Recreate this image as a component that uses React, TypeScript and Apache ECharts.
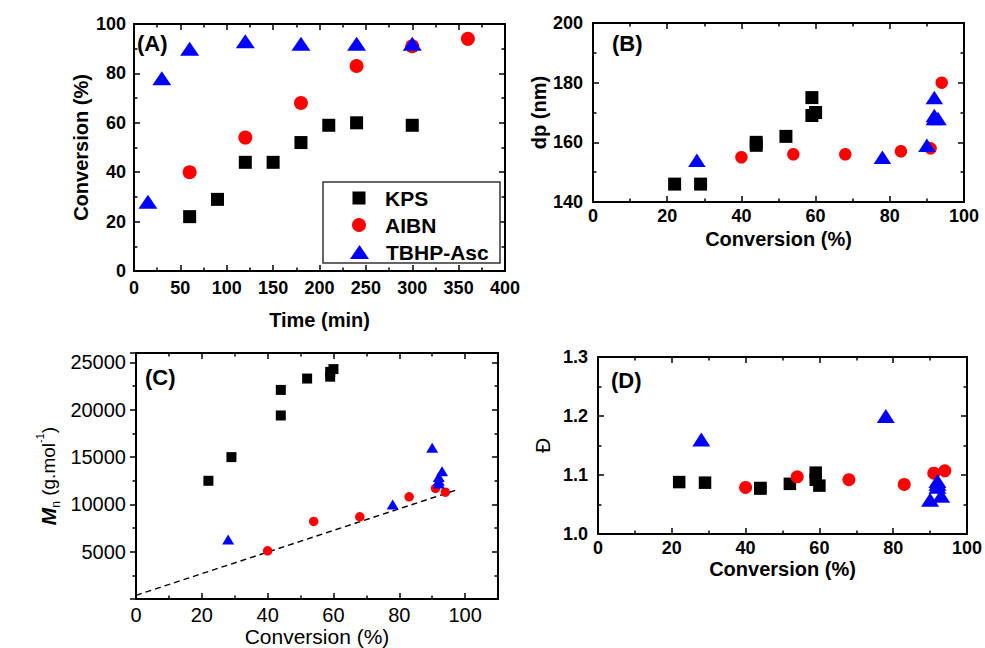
import React, { useEffect, useRef } from 'react';
import * as echarts from 'echarts';

const FONT = '"Liberation Sans", Arial, Helvetica, sans-serif';

// ---------- Panel A: Conversion vs time ----------
const timeKPS = [60, 90, 120, 150, 180, 210, 240, 300];
const convKPS = [22, 29, 44, 44, 52, 59, 60, 59];
const timeAIBN = [60, 120, 180, 240, 300, 360];
const convAIBN = [40, 54, 68, 83, 91, 94];
const timeTBHP = [15, 30, 60, 120, 180, 240, 300];
const convTBHP = [28, 78, 90, 93, 92, 92, 92];

// ---------- Panel B: dp vs conversion ----------
const bConvKPS = [22, 29, 44, 44, 52, 59, 60, 59];
const dpKPS = [146, 146, 159, 160, 162, 175, 170, 169];
const bConvAIBN = [40, 54, 68, 83, 91, 94];
const dpAIBN = [155, 156, 156, 157, 158, 180];
const bConvTBHP = [28, 78, 90, 93, 92, 92, 92];
const dpTBHP = [154, 155, 159, 168, 175, 168, 169];

// ---------- Panel C: Mn vs conversion ----------
const cConvKPS = [22, 29, 44, 44, 52, 59, 59, 60];
const mnKPS = [12500, 15000, 22100, 19400, 23300, 23500, 24000, 24300];
const cConvAIBN = [40, 54, 68, 83, 91, 94];
const mnAIBN = [5100, 8200, 8700, 10800, 11700, 11300];
const cConvTBHP = [28, 78, 90, 93, 92, 92, 92];
const mnTBHP = [6300, 10000, 16000, 13500, 12900, 12500, 12200];
const theoryConv = [0, 98];
const theoryMn = [400, 11600];

// ---------- Panel D: dispersity vs conversion ----------
const dConvKPS = [22, 29, 44, 44, 52, 59, 59, 60];
const dispKPS = [1.088, 1.087, 1.077, 1.078, 1.085, 1.104, 1.092, 1.082];
const dConvAIBN = [40, 54, 68, 83, 91, 94];
const dispAIBN = [1.079, 1.097, 1.092, 1.084, 1.103, 1.107];
const dConvTBHP = [28, 78, 90, 93, 92, 92, 92];
const dispTBHP = [1.16, 1.2, 1.058, 1.065, 1.09, 1.08, 1.085];

const zip = (xs: number[], ys: number[]) => xs.map((x, i) => [x, ys[i]]);

const BLACK = '#000000';
const RED = '#ff0000';
const BLUE = '#0000ff';

const lineStyle = { color: BLACK, width: 2 };
const tickStyle = { color: BLACK, width: 1.5 };

function axisPair(
  kind: 'x' | 'y',
  gridIndex: number,
  min: number,
  max: number,
  interval: number,
  opts: any
) {
  const main: any = {
    type: 'value',
    gridIndex,
    min,
    max,
    interval,
    position: kind === 'x' ? 'bottom' : 'left',
    axisLine: { show: true, onZero: false, lineStyle },
    axisTick: { show: true, inside: opts.tickOutside ? false : true, length: 6, lineStyle: tickStyle },
    minorTick: { show: true, splitNumber: 2, length: 3.5, lineStyle: tickStyle },
    splitLine: { show: false },
    axisLabel: {
      show: true,
      fontFamily: FONT,
      fontSize: opts.labelSize || 18,
      fontWeight: opts.bold ? 'bold' : 'normal',
      color: BLACK,
      margin: opts.margin,
      formatter: opts.formatter,
    },
    name: opts.name,
    nameLocation: 'middle',
    nameGap: opts.nameGap,
    nameRotate: kind === 'y' ? 90 : 0,
    nameTextStyle: opts.nameTextStyle,
  };
  const mirror: any = {
    type: 'value',
    gridIndex,
    min,
    max,
    interval,
    position: kind === 'x' ? 'top' : 'right',
    axisLine: { show: true, onZero: false, lineStyle },
    axisTick: { show: true, inside: true, length: 6, lineStyle: tickStyle },
    minorTick: { show: true, splitNumber: 2, length: 3.5, lineStyle: tickStyle },
    splitLine: { show: false },
    axisLabel: { show: false },
  };
  return [main, mirror];
}

const boldName = (size: number) => ({
  fontFamily: FONT,
  fontSize: size,
  fontWeight: 'bold',
  color: BLACK,
});

function scatter(
  name: string,
  xIdx: number,
  yIdx: number,
  data: number[][],
  symbol: string,
  size: any,
  color: string,
  z = 3
) {
  return {
    type: 'scatter',
    name,
    xAxisIndex: xIdx,
    yAxisIndex: yIdx,
    data,
    symbol,
    symbolSize: size,
    itemStyle: { color, opacity: 1 },
    z,
  };
}

const App: React.FC = () => {
  const ref = useRef<HTMLDivElement>(null);

  useEffect(() => {
    if (!ref.current) return;
    const chart = echarts.init(ref.current, undefined, { renderer: 'svg' });

    const xAxes = [
      ...axisPair('x', 0, 0, 400, 50, {
        bold: true,
        margin: 8,
        name: 'Time (min)',
        nameGap: 39,
        nameTextStyle: boldName(20),
      }),
      ...axisPair('x', 1, 0, 100, 20, {
        bold: true,
        margin: 5,
        name: 'Conversion (%)',
        nameGap: 27,
        nameTextStyle: boldName(20),
      }),
      ...axisPair('x', 2, 0, 110, 20, {
        bold: false,
        labelSize: 20,
        margin: 6,
        name: 'Conversion (%)',
        nameGap: 22,
        nameTextStyle: { fontFamily: FONT, fontSize: 21, color: BLACK },
        formatter: (v: number) => (v % 20 === 0 ? String(v) : ''),
      }),
      ...axisPair('x', 3, 0, 100, 20, {
        bold: true,
        margin: 5,
        name: 'Conversion (%)',
        nameGap: 25,
        nameTextStyle: boldName(20),
      }),
    ];

    const yAxes = [
      ...axisPair('y', 0, 0, 100, 20, {
        bold: true,
        margin: 8,
        name: 'Conversion (%)',
        nameGap: 43,
        nameTextStyle: boldName(20),
      }),
      ...axisPair('y', 1, 140, 200, 20, {
        bold: true,
        margin: 10,
        name: 'dp (nm)',
        nameGap: 41,
        nameTextStyle: boldName(20),
      }),
      ...axisPair('y', 2, 0, 26000, 5000, {
        bold: false,
        labelSize: 20,
        margin: 10,
        tickOutside: true,
        name: '{m|M}{sub|n}{t| (g.mol}{sup|-1}{t|)}',
        nameGap: 74,
        nameTextStyle: {
          fontFamily: FONT,
          color: BLACK,
          rich: {
            m: {
              fontFamily: FONT,
              fontSize: 21,
              fontWeight: 'bold',
              fontStyle: 'italic',
              color: BLACK,
              lineHeight: 28,
              verticalAlign: 'middle',
            },
            sub: {
              fontFamily: FONT,
              fontSize: 12,
              color: BLACK,
              verticalAlign: 'bottom',
              lineHeight: 12,
            },
            t: {
              fontFamily: FONT,
              fontSize: 19,
              color: BLACK,
              verticalAlign: 'middle',
              lineHeight: 22,
            },
            sup: {
              fontFamily: FONT,
              fontSize: 11,
              color: BLACK,
              verticalAlign: 'top',
              lineHeight: 11,
            },
          },
        },
        formatter: (v: number) => (v > 0 && v % 5000 === 0 ? String(v) : ''),
      }),
      ...axisPair('y', 3, 1.0, 1.3, 0.1, {
        bold: true,
        margin: 10,
        name: 'Đ',
        nameGap: 45,
        nameTextStyle: { fontFamily: FONT, fontSize: 21, color: BLACK },
        formatter: (v: number) => v.toFixed(1),
      }),
    ];

    const legendText = (pad: number) => ({
      fontFamily: FONT,
      fontSize: 21,
      fontWeight: 'bold',
      color: BLACK,
      lineHeight: 24,
      padding: [0, 0, 0, pad],
    });

    const option: any = {
      animation: false,
      backgroundColor: '#ffffff',
      textStyle: { fontFamily: FONT },
      grid: [
        { left: 134, top: 24, width: 371, height: 247, show: false },
        { left: 593, top: 23, width: 371, height: 179, show: false },
        { left: 136, top: 353, width: 362, height: 251, show: false },
        { left: 598, top: 357, width: 370, height: 177, show: false },
      ],
      xAxis: xAxes,
      yAxis: yAxes,
      legend: [
        {
          data: [{ name: 'KPS', icon: 'rect' }],
          left: 352.5,
          top: 186,
          padding: 0,
          itemWidth: 13,
          itemHeight: 13,
          selectedMode: false,
          textStyle: legendText(14.5),
          z: 5,
        },
        {
          data: [{ name: 'AIBN', icon: 'circle' }],
          left: 352,
          top: 213,
          padding: 0,
          itemWidth: 14,
          itemHeight: 14,
          selectedMode: false,
          textStyle: legendText(14),
          z: 5,
        },
        {
          data: [{ name: 'TBHP-Asc', icon: 'triangle' }],
          left: 350,
          top: 240,
          padding: 0,
          itemWidth: 19,
          itemHeight: 14,
          selectedMode: false,
          textStyle: legendText(12),
          z: 5,
        },
      ],
      graphic: [
        {
          type: 'rect',
          shape: { x: 323, y: 182, width: 177, height: 81 },
          style: { fill: '#ffffff', stroke: '#333333', lineWidth: 1.5 },
          z: 4,
        },
        {
          type: 'text',
          x: 137,
          y: 43,
          style: { text: '(A)', fontFamily: FONT, fontSize: 22, fontWeight: 'bold', fill: BLACK, verticalAlign: 'middle' },
          z: 6,
        },
        {
          type: 'text',
          x: 612,
          y: 43,
          style: { text: '(B)', fontFamily: FONT, fontSize: 22, fontWeight: 'bold', fill: BLACK, verticalAlign: 'middle' },
          z: 6,
        },
        {
          type: 'text',
          x: 145,
          y: 377,
          style: { text: '(C)', fontFamily: FONT, fontSize: 22, fontWeight: 'bold', fill: BLACK, verticalAlign: 'middle' },
          z: 6,
        },
        {
          type: 'text',
          x: 611,
          y: 380,
          style: { text: '(D)', fontFamily: FONT, fontSize: 22, fontWeight: 'bold', fill: BLACK, verticalAlign: 'middle' },
          z: 6,
        },
      ],
      series: [
        // Panel A
        scatter('KPS', 0, 0, zip(timeKPS, convKPS), 'rect', 13, BLACK),
        scatter('AIBN', 0, 0, zip(timeAIBN, convAIBN), 'circle', 14, RED),
        scatter('TBHP-Asc', 0, 0, zip(timeTBHP, convTBHP), 'triangle', [19, 14], BLUE),
        // Panel B
        scatter('KPS', 2, 2, zip(bConvKPS, dpKPS), 'rect', 13, BLACK),
        scatter('AIBN', 2, 2, zip(bConvAIBN, dpAIBN), 'circle', 12.5, RED),
        scatter('TBHP-Asc', 2, 2, zip(bConvTBHP, dpTBHP), 'triangle', [17.5, 13.5], BLUE),
        // Panel C
        {
          type: 'line',
          name: 'theory',
          xAxisIndex: 4,
          yAxisIndex: 4,
          data: zip(theoryConv, theoryMn),
          showSymbol: false,
          symbol: 'none',
          lineStyle: { color: BLACK, width: 1.4, type: [6, 4] },
          z: 2,
          silent: true,
        },
        scatter('KPS', 4, 4, zip(cConvKPS, mnKPS), 'rect', 10, BLACK),
        scatter('AIBN', 4, 4, zip(cConvAIBN, mnAIBN), 'circle', 9.5, RED),
        scatter('TBHP-Asc', 4, 4, zip(cConvTBHP, mnTBHP), 'triangle', [12, 10], BLUE),
        // Panel D
        scatter('KPS', 6, 6, zip(dConvKPS, dispKPS), 'rect', 12.5, BLACK),
        scatter('AIBN', 6, 6, zip(dConvAIBN, dispAIBN), 'circle', 13, RED),
        scatter('TBHP-Asc', 6, 6, zip(dConvTBHP, dispTBHP), 'triangle', [18, 14], BLUE),
      ],
    };

    chart.setOption(option);
    return () => {
      chart.dispose();
    };
  }, []);

  return (
    <div
      ref={ref}
      style={{ position: 'fixed', left: 0, top: 0, width: 985, height: 648, background: '#fff' }}
    />
  );
};

export default App;
